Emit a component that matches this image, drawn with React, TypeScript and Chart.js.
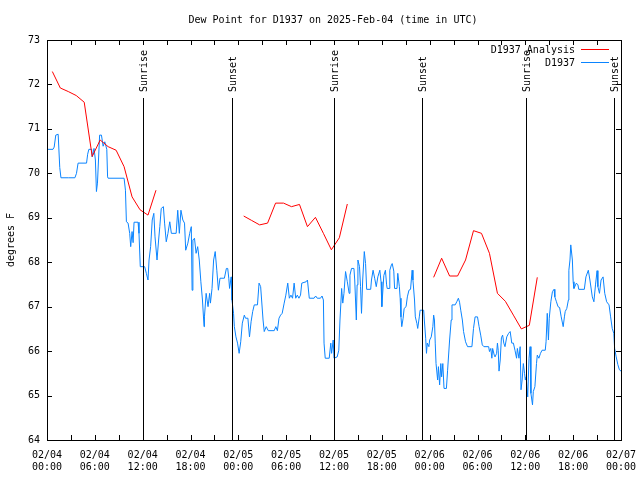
import React, { useEffect, useRef } from "react";
import { Chart, registerables } from "chart.js";

Chart.register(...registerables);

const TITLE = "Dew Point for D1937 on 2025-Feb-04 (time in UTC)";
const Y_TITLE = "degrees F";
const tickDates = ["02/04", "02/04", "02/04", "02/04", "02/05", "02/05", "02/05", "02/05", "02/06", "02/06", "02/06", "02/06", "02/07"];
const tickTimes = ["00:00", "06:00", "12:00", "18:00", "00:00", "06:00", "12:00", "18:00", "00:00", "06:00", "12:00", "18:00", "00:00"];

// sun events in hours since 02/04 00:00 UTC
const sunHours = [12.05, 23.15, 36.0, 47.05, 60.1, 71.15];
const sunLabels = ["Sunrise", "Sunset", "Sunrise", "Sunset", "Sunrise", "Sunset"];

// Analysis (hours, °F); null marks a gap
const analysisHours = [
  0.67, 1.67, 2.67, 3.67, 4.67, 5.67, 6.67, 7.67, 8.67, 9.67, 10.67, 11.67, 12.67, 13.67,
  14.2,
  24.67, 25.67, 26.67, 27.67, 28.67, 29.67, 30.67, 31.67, 32.67, 33.67, 34.67, 35.67, 36.67, 37.67,
  38.2,
  48.5, 49.5, 50.5, 51.5, 52.5, 53.5, 54.5, 55.5, 56.5, 57.5, 58.5, 59.5, 60.5, 61.5,
];
const analysisValues = [
  72.29, 71.92, 71.84, 71.75, 71.6, 70.38, 70.75, 70.6, 70.52, 70.15, 69.47, 69.18, 69.06, 69.62,
  null,
  69.04, 68.94, 68.84, 68.88, 69.33, 69.33, 69.25, 69.3, 68.8, 69.01, 68.65, 68.28, 68.55, 69.31,
  null,
  67.66, 68.09, 67.69, 67.69, 68.05, 68.71, 68.65, 68.2, 67.3, 67.12, 66.81, 66.5, 66.58, 67.66,
];

// Station D1937 observations (hours, °F)
const obsHours = [
  0.0, 0.75, 0.9, 1.1, 1.4, 1.6, 1.75, 2.67, 3.5, 3.7, 3.9, 4.96, 5.1, 5.25, 5.6, 5.67, 5.9, 6.07, 6.2, 6.33,
  6.6, 6.83, 7.04, 7.25, 7.5, 7.6, 7.67, 9.67, 9.84, 9.96, 10.17, 10.375, 10.5, 10.67, 10.8, 10.92, 11.42, 11.54, 11.7, 12.25,
  12.46, 12.67, 12.8, 13.0, 13.2, 13.4, 13.55, 13.8, 14.0, 14.15, 14.33, 14.6, 14.75, 14.96, 15.17, 15.4, 15.6, 16.2, 16.4, 16.6,
  16.8, 17.04, 17.25, 17.4, 17.67, 17.9, 18.1, 18.2, 18.3, 18.5, 18.7, 18.9, 19.1, 19.3, 19.5, 19.7, 19.75, 19.96, 20.2, 20.4,
  20.5, 20.7, 20.9, 21.1, 21.3, 21.5, 21.7, 22.25, 22.5, 22.67, 22.8, 22.9, 23.1, 23.2, 23.4, 23.5, 23.7, 23.9, 24.1, 24.3,
  24.5, 24.75, 24.9, 25.2, 25.4, 25.6, 25.8, 26.0, 26.4, 26.6, 26.8, 27.1, 27.25, 27.5, 27.75, 28.5, 28.7, 28.9, 29.1, 29.3,
  29.5, 29.75, 29.96, 30.2, 30.4, 30.6, 30.8, 31.0, 31.2, 31.4, 31.6, 31.8, 31.96, 32.5, 32.67, 32.9, 33.5, 33.7, 33.9, 34.3,
  34.5, 34.67, 34.75, 34.9, 35.4, 35.6, 35.7, 35.9, 36.0, 36.4, 36.6, 36.75, 36.96, 37.1, 37.25, 37.45, 37.67, 37.9, 38.0, 38.2,
  38.5, 38.6, 38.8, 38.9, 39.0, 39.2, 39.33, 39.45, 39.6, 39.8, 39.96, 40.1, 40.6, 40.7, 40.9, 41.1, 41.3, 41.5, 41.75, 41.9,
  42.0, 42.25, 42.45, 42.6, 42.67, 42.9, 43.0, 43.2, 43.3, 43.5, 43.6, 43.9, 44.0, 44.2, 44.3, 44.4, 44.5, 44.67, 44.8, 45.04,
  45.2, 45.4, 45.6, 45.8, 45.9, 46.1, 46.2, 46.4, 46.5, 46.7, 46.8, 47.25, 47.33, 47.5, 47.6, 47.7, 47.9, 48.0, 48.2, 48.4,
  48.5, 48.6, 48.7, 48.8, 49.0, 49.1, 49.25, 49.4, 49.5, 49.65, 49.8, 50.1, 50.25, 50.5, 50.7, 50.8, 51.2, 51.4, 51.6, 51.75,
  51.9, 52.1, 52.25, 52.5, 52.75, 53.3, 53.5, 53.7, 54.0, 54.2, 54.4, 54.6, 54.8, 55.4, 55.5, 55.67, 55.8, 55.9, 56.1, 56.2,
  56.4, 56.5, 56.6, 56.7, 56.85, 57.0, 57.15, 57.3, 57.45, 57.67, 57.9, 58.1, 58.3, 58.5, 58.7, 58.9, 59.0, 59.2, 59.35, 59.46,
  59.6, 59.75, 59.9, 60.0, 60.1, 60.3, 60.46, 60.6, 60.7, 60.9, 61.0, 61.2, 61.4, 61.5, 61.7, 61.9, 62.1, 62.5, 62.6, 62.75,
  62.9, 63.0, 63.2, 63.4, 63.6, 63.7, 63.9, 64.1, 64.3, 64.5, 64.75, 64.9, 65.0, 65.2, 65.4, 65.46, 65.6, 65.7, 65.9, 66.0,
  66.1, 66.4, 66.6, 66.7, 67.4, 67.6, 67.9, 68.1, 68.4, 68.6, 68.8, 69.0, 69.1, 69.3, 69.5, 69.75, 69.96, 70.2, 70.5, 70.7,
  70.9, 71.1, 71.2, 71.4, 71.6, 71.8, 72.0,
];
const obsValues = [
  70.54, 70.54, 70.59, 70.86, 70.88, 70.13, 69.9, 69.9, 69.9, 70.0, 70.23, 70.23, 70.43, 70.54, 70.54, 70.37, 70.56, 70.3, 69.59, 69.78,
  70.86, 70.86, 70.61, 70.71, 70.54, 69.92, 69.89, 69.89, 69.62, 68.91, 68.88, 68.65, 68.35, 68.69, 68.44, 68.9, 68.9, 68.65, 67.9, 67.9,
  67.75, 67.6, 68.05, 68.35, 68.95, 69.1, 68.57, 68.05, 68.5, 68.8, 69.21, 69.25, 68.88, 68.46, 68.65, 68.91, 68.65, 68.65, 69.17, 68.65,
  69.17, 68.95, 68.88, 68.27, 68.43, 68.65, 68.8, 67.37, 68.5, 68.54, 68.2, 68.35, 68.05, 67.56, 67.15, 66.55, 66.77, 67.3, 67.0, 67.3,
  67.08, 67.41, 68.05, 68.24, 67.82, 67.37, 67.64, 67.64, 67.86, 67.86, 67.64, 67.41, 67.67, 67.15, 66.85, 66.55, 66.32, 66.18, 65.95, 66.21,
  66.63, 66.81, 66.74, 66.74, 66.32, 66.66, 66.89, 67.04, 67.04, 67.53, 67.45, 66.7, 66.44, 66.55, 66.46, 66.46, 66.55, 66.46, 66.74, 66.81,
  66.85, 67.08, 67.26, 67.53, 67.19, 67.26, 67.19, 67.53, 67.19, 67.26, 67.19, 67.26, 67.53, 67.56, 67.6, 67.19, 67.19, 67.24, 67.19, 67.19,
  67.24, 67.15, 66.18, 65.84, 65.84, 66.18, 65.95, 66.25, 65.84, 65.87, 66.02, 66.7, 67.41, 67.08, 67.3, 67.79, 67.56, 67.3, 67.71, 67.86,
  67.86, 67.6, 66.7, 67.49, 68.05, 67.9, 67.45, 66.85, 67.6, 68.24, 67.97, 67.39, 67.39, 67.6, 67.82, 67.64, 67.45, 67.67, 67.82, 67.56,
  67.0, 67.7, 67.82, 67.49, 67.41, 67.41, 67.82, 67.94, 67.97, 67.8, 67.41, 67.41, 67.75, 67.45, 67.19, 66.77, 66.55, 66.74, 66.96, 67.0,
  67.22, 67.37, 67.39, 67.82, 67.6, 67.15, 66.77, 66.62, 66.51, 66.77, 66.92, 66.92, 66.7, 66.29, 65.95, 66.18, 66.1, 66.25, 66.32, 66.55,
  66.81, 66.7, 66.18, 65.72, 65.35, 65.65, 65.24, 65.72, 65.42, 65.72, 65.16, 65.16, 65.57, 66.25, 66.7, 67.04, 67.04, 67.11, 67.19, 67.1,
  66.92, 66.7, 66.44, 66.21, 66.1, 66.1, 66.51, 66.77, 66.77, 66.55, 66.36, 66.14, 66.1, 66.1, 65.99, 66.06, 65.84, 66.06, 65.91, 65.87,
  65.95, 66.18, 66.02, 65.55, 65.8, 66.3, 66.36, 66.18, 66.1, 66.32, 66.4, 66.44, 66.18, 66.18, 66.02, 65.84, 66.06, 65.84, 66.1, 65.13,
  65.35, 65.72, 65.5, 65.35, 65.42, 64.97, 65.84, 66.1, 65.05, 64.79, 65.09, 65.2, 65.72, 65.91, 65.84, 65.95, 66.02, 66.02, 66.21, 66.85,
  66.25, 66.74, 67.11, 67.34, 67.39, 67.22, 67.11, 67.0, 66.98, 66.77, 66.55, 66.77, 66.89, 66.96, 67.15, 67.82, 68.05, 68.39, 68.05, 67.56,
  67.41, 67.53, 67.49, 67.39, 67.39, 67.67, 67.82, 67.6, 67.22, 67.11, 67.49, 67.81, 67.45, 67.3, 67.6, 67.67, 67.3, 67.11, 67.04, 66.77,
  66.51, 66.4, 66.06, 65.87, 65.7, 65.58, 65.55,
];

const FONT = "'DejaVu Sans Mono', 'Liberation Mono', monospace";
const RED = "#ff0000";
const BLUE = "#0a84ff";

const overlay = {
  id: "overlay",
  afterDatasetsDraw(chart: any) {
    const { ctx, chartArea: a, scales } = chart;
    const x = scales.x;
    const y = scales.y;
    ctx.save();
    ctx.font = `10px ${FONT}`;
    ctx.fillStyle = "#000";
    ctx.strokeStyle = "#000";
    ctx.lineWidth = 1;

    // sunrise / sunset markers
    sunHours.forEach((h, i) => {
      const px = Math.round(x.getPixelForValue(h)) + 0.5;
      ctx.beginPath();
      ctx.moveTo(px, a.top + 58);
      ctx.lineTo(px, a.bottom);
      ctx.stroke();
      ctx.save();
      ctx.translate(px + 1, a.top + 52);
      ctx.rotate(-Math.PI / 2);
      ctx.textAlign = "left";
      ctx.textBaseline = "middle";
      ctx.fillText(sunLabels[i], 0, 0);
      ctx.restore();
    });

    // border
    ctx.strokeRect(Math.round(a.left) + 0.5, Math.round(a.top) + 0.5, Math.round(a.right - a.left), Math.round(a.bottom - a.top));

    // inward ticks
    const TL = 5;
    for (let h = 0; h <= 72; h += 3) {
      const px = Math.round(x.getPixelForValue(h)) + 0.5;
      ctx.beginPath();
      ctx.moveTo(px, a.bottom);
      ctx.lineTo(px, a.bottom - TL);
      ctx.moveTo(px, a.top);
      ctx.lineTo(px, a.top + TL);
      ctx.stroke();
    }
    for (let v = 64; v <= 73; v += 1) {
      const py = Math.round(y.getPixelForValue(v)) + 0.5;
      ctx.beginPath();
      ctx.moveTo(a.left, py);
      ctx.lineTo(a.left + TL, py);
      ctx.moveTo(a.right, py);
      ctx.lineTo(a.right - TL, py);
      ctx.stroke();
    }

    // legend
    const items = [
      { label: "D1937 Analysis", color: RED },
      { label: "D1937", color: BLUE },
    ];
    items.forEach((it, i) => {
      const ly = a.top + 10 + i * 13;
      ctx.textAlign = "right";
      ctx.textBaseline = "middle";
      ctx.fillStyle = "#000";
      ctx.fillText(it.label, a.right - 46, ly);
      ctx.strokeStyle = it.color;
      ctx.beginPath();
      ctx.moveTo(a.right - 40, Math.round(ly) - 0.5);
      ctx.lineTo(a.right - 12, Math.round(ly) - 0.5);
      ctx.stroke();
    });

    // title
    ctx.fillStyle = "#000";
    ctx.textAlign = "center";
    ctx.textBaseline = "middle";
    ctx.fillText(TITLE, 333, 20);

    // y axis title
    ctx.save();
    ctx.translate(11, (a.top + a.bottom) / 2);
    ctx.rotate(-Math.PI / 2);
    ctx.textAlign = "center";
    ctx.textBaseline = "middle";
    ctx.fillText(Y_TITLE, 0, 0);
    ctx.restore();

    ctx.restore();
  },
};

export default function App() {
  const ref = useRef<HTMLCanvasElement | null>(null);
  useEffect(() => {
    if (!ref.current) return;
    Chart.defaults.font.family = FONT;
    Chart.defaults.font.size = 10;
    Chart.defaults.color = "#000";
    const chart = new Chart(ref.current, {
      type: "line",
      data: {
        datasets: [
          {
            label: "D1937 Analysis",
            data: analysisHours.map((h, i) => ({ x: h, y: analysisValues[i] })) as any,
            borderColor: RED,
            borderWidth: 1,
            pointRadius: 0,
            tension: 0,
            spanGaps: false,
          },
          {
            label: "D1937",
            data: obsHours.map((h, i) => ({ x: h, y: obsValues[i] })) as any,
            borderColor: BLUE,
            borderWidth: 1,
            pointRadius: 0,
            tension: 0,
          },
        ],
      },
      options: {
        animation: false,
        responsive: false,
        devicePixelRatio: 1,
        layout: { padding: { top: 40, right: 19, left: 0, bottom: 0 } },
        plugins: { legend: { display: false }, title: { display: false }, tooltip: { enabled: false } },
        scales: {
          x: {
            type: "linear",
            min: 0,
            max: 72,
            grid: { display: false, drawTicks: false, tickLength: 0 },
            border: { display: false },
            ticks: {
              stepSize: 6,
              padding: 9,
              maxRotation: 0,
              autoSkip: false,
              color: "#000",
              font: { family: FONT, size: 10, lineHeight: 1.2 },
              callback: (v: any) => {
                const i = Math.round(Number(v) / 6);
                return [tickDates[i], tickTimes[i]];
              },
            },
            afterFit: (s: any) => {
              s.height = 40;
              s.paddingLeft = 0;
              s.paddingRight = 0;
            },
          },
          y: {
            min: 64,
            max: 73,
            grid: { display: false, drawTicks: false, tickLength: 0 },
            border: { display: false },
            ticks: {
              stepSize: 1,
              padding: 7,
              color: "#000",
              font: { family: FONT, size: 10 },
            },
            afterFit: (s: any) => {
              s.width = 47;
              s.paddingTop = 0;
              s.paddingBottom = 0;
            },
          },
        },
      },
      plugins: [overlay],
    });
    return () => chart.destroy();
  }, []);
  return (
    <div style={{ position: "absolute", left: 0, top: 0, width: 640, height: 480, background: "#fff" }}>
      <canvas ref={ref} width={640} height={480} />
    </div>
  );
}
